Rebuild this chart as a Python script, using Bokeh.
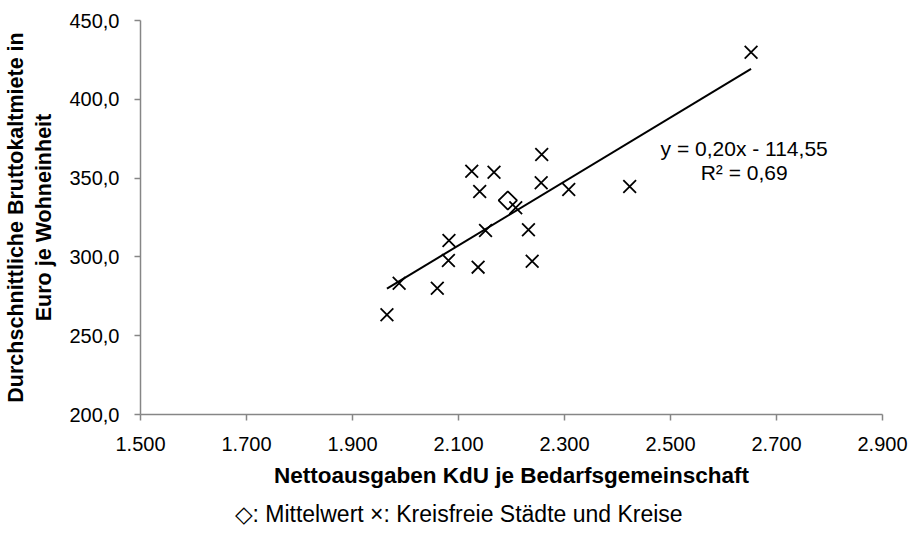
import numpy as np
from bokeh.plotting import figure
from bokeh.models import Range1d, FixedTicker, Label, Title
from bokeh.embed import file_html
from bokeh.resources import INLINE

# Data: Kreisfreie Städte und Kreise
netto_kdu = [1965, 1988, 2060, 2081, 2082, 2137, 2151, 2140, 2125, 2167,
             2208, 2232, 2239, 2257, 2256, 2308, 2423, 2652]
bruttokaltmiete = [263.3, 283.3, 280.1, 297.7, 310.4, 293.5, 316.8, 341.5, 354.4, 353.7,
                   331.2, 317.2, 297.3, 365.0, 347.0, 342.8, 344.7, 429.9]
# Mittelwert
mean_x = [2193]
mean_y = [335.8]

x_ticks = [1500, 1700, 1900, 2100, 2300, 2500, 2700, 2900]
x_tick_labels = ["1.500", "1.700", "1.900", "2.100", "2.300", "2.500", "2.700", "2.900"]
y_ticks = [200, 250, 300, 350, 400, 450]
y_tick_labels = ["200,0", "250,0", "300,0", "350,0", "400,0", "450,0"]

FONT = "Liberation Sans"
AXIS_COLOR = "#868686"

p = figure(width=908, height=557, output_backend="svg", toolbar_location=None,
           x_range=Range1d(1500, 2900), y_range=Range1d(200, 450),
           min_border_left=137, min_border_right=26, min_border_top=20, min_border_bottom=143)
p.outline_line_color = None
p.grid.visible = False
p.background_fill_color = "white"
p.border_fill_color = "white"

for ax, ticks, labels in ((p.xaxis[0], x_ticks, x_tick_labels), (p.yaxis[0], y_ticks, y_tick_labels)):
    ax.ticker = FixedTicker(ticks=ticks)
    ax.major_label_overrides = {t: l for t, l in zip(ticks, labels)}
    ax.axis_line_color = AXIS_COLOR
    ax.axis_line_width = 1.5
    ax.major_tick_line_color = AXIS_COLOR
    ax.major_tick_line_width = 1.5
    ax.major_tick_out = 6
    ax.major_tick_in = 0
    ax.minor_tick_line_color = None
    ax.major_label_text_font = FONT
    ax.major_label_text_font_size = "20px"
    ax.major_label_text_color = "black"
    ax.axis_label_text_font = FONT
    ax.axis_label_text_font_style = "bold"
    ax.axis_label_text_font_size = "21.5px"
    ax.axis_label_text_color = "black"

p.xaxis.axis_label = "Nettoausgaben KdU je Bedarfsgemeinschaft"
p.xaxis.axis_label_text_font_size = "22.5px"
p.xaxis.major_label_standoff = 16
p.xaxis.axis_label_standoff = 9
p.yaxis.axis_label = "Durchschnittliche Bruttokaltmiete in\nEuro je Wohneinheit"
p.yaxis.major_label_standoff = 15
p.yaxis.axis_label_standoff = 10

# Trend line (linear regression over cities)
slope, intercept = np.polyfit(netto_kdu, bruttokaltmiete, 1)
tx = np.array([min(netto_kdu), max(netto_kdu)])
p.line(tx, slope * tx + intercept, line_color="black", line_width=2)

p.scatter(netto_kdu, bruttokaltmiete, marker="x", size=18, line_color="black", line_width=1.8)
p.scatter(mean_x, mean_y, marker="square", angle=np.pi / 4, size=13,
          fill_color=None, line_color="black", line_width=1.8)

eq = Label(x=2639, y=368.8, text="y = 0,20x - 114,55", text_font=FONT, text_font_size="21px",
           text_align="center", text_baseline="middle", text_color="black")
r2 = Label(x=2639, y=353.6, text="R² = 0,69", text_font=FONT, text_font_size="21px",
           text_align="center", text_baseline="middle", text_color="black")
p.add_layout(eq)
p.add_layout(r2)

legend_text = Title(text="◇: Mittelwert ×: Kreisfreie Städte und Kreise", align="left", offset=94,
                    text_font=FONT, text_font_size="23px", text_font_style="normal",
                    text_color="black", standoff=16)
p.add_layout(legend_text, "below")

open("out.html", "w").write(file_html(p, INLINE))
